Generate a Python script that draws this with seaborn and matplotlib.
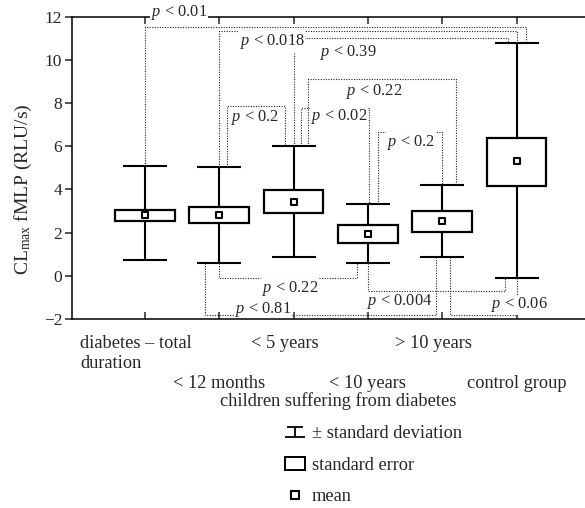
import numpy as np
import pandas as pd
import matplotlib
matplotlib.use('Agg')
import matplotlib.pyplot as plt
import matplotlib.transforms as mtransforms
import seaborn as sns
from matplotlib.path import Path
from matplotlib.lines import Line2D
from matplotlib.patches import Patch

# %% data
groups = ['diabetes – total\nduration', '< 12 months', '< 5 years',
          '< 10 years', '> 10 years', 'control group']
mean = np.array([2.82, 2.82, 3.44, 1.93, 2.56, 5.32])
se_low = np.array([2.56, 2.44, 2.93, 1.51, 2.04, 4.18])
se_high = np.array([3.06, 3.21, 3.98, 2.35, 3.00, 6.40])
sd_low = np.array([0.74, 0.62, 0.89, 0.62, 0.89, -0.08])
sd_high = np.array([5.09, 5.06, 6.03, 3.33, 4.21, 10.77])

# comparisons: (left group, right group, whisker end used, p value)
pairs = [(0, 5, 'hi', '0.01'), (1, 5, 'hi', '0.018'), (2, 5, 'hi', '0.39'),
         (1, 2, 'hi', '0.2'), (2, 4, 'hi', '0.22'), (2, 3, 'hi', '0.02'),
         (3, 4, 'hi', '0.2'), (1, 3, 'lo', '0.22'), (1, 4, 'lo', '0.81'),
         (3, 5, 'lo', '0.004'), (4, 5, 'lo', '0.06')]

# layout of the brackets (x shift of both ends, height) and of their labels
br_dx = [(0, .13), (0, 0), (0, -.12), (.10, -.12), (.20, .19), (.10, .01),
         (.13, 0), (0, -.14), (-.19, -.09), (0, -.15), (.11, 0)]
br_level = [11.54, 11.31, 11.03, 7.87, 9.12, 7.79, 6.68, -0.11, -1.81, -0.70, -1.82]
lab_xy = [(0.46, 12.2), (1.71, 10.85), (2.74, 10.35), (1.48, 7.31), (3.09, 8.52),
          (2.61, 7.36), (3.58, 6.16), (1.95, -0.56), (1.59, -1.57), (3.43, -1.20),
          (5.04, -1.34)]

df = pd.DataFrame({'pos': np.arange(len(groups)), 'mean': mean})

# %%
sns.set_style('ticks')
plt.rcParams['font.family'] = ['Liberation Serif', 'DejaVu Serif']
plt.rcParams['mathtext.fontset'] = 'custom'
plt.rcParams['mathtext.rm'] = 'Liberation Serif'
plt.rcParams['mathtext.it'] = 'Liberation Serif:italic'

fig = plt.figure(figsize=(5.85, 5.08), dpi=100)
ax = fig.add_axes([0.1231, 0.3717, 0.887, 0.5957])

ax.errorbar(df.pos, mean, yerr=[mean - sd_low, sd_high - mean], fmt='none',
            ecolor='k', elinewidth=1.5, capsize=15.5, capthick=1.5, zorder=1)
ax.bar(df.pos, se_high - se_low, bottom=se_low, width=0.8, facecolor='white',
       edgecolor='k', linewidth=1.6, zorder=1.5)
sns.scatterplot(data=df, x='pos', y='mean', marker='s', s=22, color='white',
                edgecolor='k', linewidth=1.5, zorder=3, legend=False, ax=ax)

for (g1, g2, end, p), (d1, d2), lvl, (lx, ly) in zip(pairs, br_dx, br_level, lab_xy):
    ends = sd_high if end == 'hi' else sd_low
    ax.plot([g1 + d1, g1 + d1, g2 + d2, g2 + d2], [ends[g1], lvl, lvl, ends[g2]],
            color='#222222', lw=0.8, ls=(0, (1, 1.3)), zorder=1.2, clip_on=False)
    ax.text(lx, ly, f'$p$ < {p}', ha='center', va='center', fontsize=11.8,
            zorder=3 if ly > 12 else 2.3, clip_on=False,
            bbox=dict(boxstyle='square,pad=0.05', fc='white', ec='none'))

ax.set_xlim(-0.98, 6.0)
ax.set_ylim(-2, 12)
ax.set_yticks(range(-2, 13, 2))
# group labels alternate between two rows: upper row on major ticks, lower row on minor ones
ax.set_xticks(df.pos[::2], labels=groups[::2])
ax.set_xticks(df.pos[1::2], labels=groups[1::2], minor=True)
ax.tick_params(axis='x', which='both', top=True, direction='in', length=5, width=1.1,
               labelsize=13.2)
ax.tick_params(axis='x', which='major', pad=11.7)
ax.tick_params(axis='x', which='minor', pad=40.5)
ax.tick_params(axis='y', direction='out', length=5, width=1.1, labelsize=12.5, pad=2)
shift = mtransforms.ScaledTranslation(-0.09, 0, fig.dpi_scale_trans)
for lbl in ax.get_xticklabels():
    lbl.set_multialignment('left')
    lbl.set_linespacing(1.17)
    lbl.set_transform(lbl.get_transform() + shift)
ax.set_xlabel('')
ax.set_ylabel('')
for side in ['left', 'top', 'bottom']:
    ax.spines[side].set_linewidth(1.1)
    ax.spines[side].set_color('k')
ax.spines['right'].set_visible(False)

fig.text(13 / 585, 1 - 189 / 508, r'CL$_{\mathrm{max}}$ fMLP (RLU/s)', rotation=90,
         ha='left', va='center', fontsize=14)
fig.text(338 / 585, 1 - 401 / 508, 'children suffering from diabetes',
         ha='center', va='center', fontsize=13.2)

# legend
ibeam = Path([(-1, -.5), (1, -.5), (0, -.5), (0, .5), (-.75, .5), (.75, .5)],
             [Path.MOVETO, Path.LINETO, Path.MOVETO, Path.LINETO, Path.MOVETO, Path.LINETO])
h_sd = Line2D([], [], ls='none', marker=ibeam, ms=14.5, mec='k', mfc='none', mew=1.3)
h_se = Patch(facecolor='white', edgecolor='k', lw=1.4)
h_mean = Line2D([], [], ls='none', marker='s', ms=5.5, mfc='white', mec='k', mew=1.5)
fig.legend([h_sd, h_se, h_mean], ['± standard deviation', 'standard error', 'mean'],
           loc='upper left', bbox_to_anchor=(285 / 585, 1 - 425 / 508), frameon=False,
           fontsize=13.2, handlelength=1.1, handletextpad=0.35, labelspacing=0.8,
           borderpad=0, borderaxespad=0)

fig.savefig('out.png', dpi=100)
